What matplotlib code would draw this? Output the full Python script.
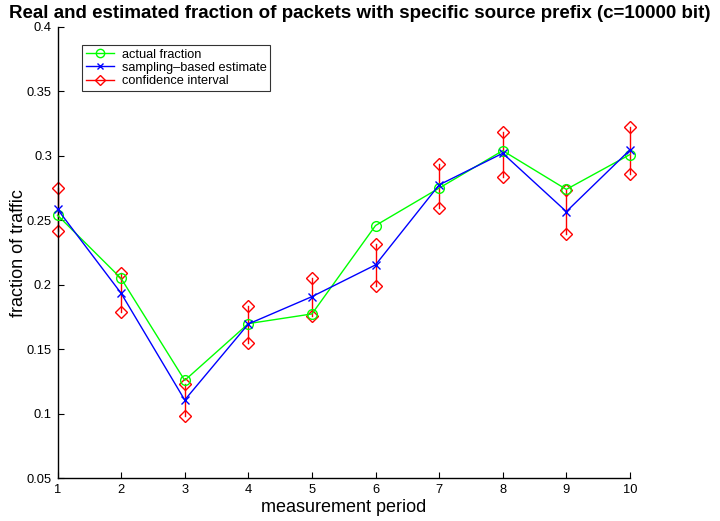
import matplotlib
matplotlib.use("Agg")
import matplotlib.pyplot as plt
from matplotlib.lines import Line2D

plt.rcParams['font.family'] = ['Liberation Sans', 'DejaVu Sans']

periods = [1, 2, 3, 4, 5, 6, 7, 8, 9, 10]
actual = [0.254, 0.205, 0.126, 0.170, 0.1775, 0.246, 0.275, 0.304, 0.274, 0.301]
estimate = [0.2586, 0.1935, 0.1108, 0.1697, 0.1909, 0.2155, 0.2775, 0.302, 0.2568, 0.3046]
ci_upper = [0.275, 0.209, 0.123, 0.1837, 0.2052, 0.2315, 0.2937, 0.3183, 0.2736, 0.3222]
ci_lower = [0.242, 0.1788, 0.0984, 0.155, 0.176, 0.1992, 0.2599, 0.2839, 0.2395, 0.286]

fig = plt.figure(figsize=(7.2, 5.21), dpi=100)
ax = fig.add_axes([0.0799, 0.0816, 0.795, 0.867])

green = '#00ff00'
blue = '#0000ff'
red = '#ff0000'

for x, lo, hi in zip(periods, ci_lower, ci_upper):
    ax.plot([x, x], [lo, hi], color=red, lw=1.0, marker='D', ms=6,
            mfc='none', mec=red, mew=1.0, zorder=2, clip_on=False)

ax.plot(periods, actual, color=green, lw=1.0, marker='o', ms=7,
        mfc='none', mec=green, mew=1.0, zorder=3, clip_on=False)
ax.plot(periods, estimate, color=blue, lw=1.0, marker='x', ms=6,
        mec=blue, mew=1.0, zorder=4, clip_on=False)

ax.set_xlim(1, 10)
ax.set_ylim(0.05, 0.4)
ax.set_xticks(periods)
ax.set_xticklabels([str(p) for p in periods])
yt = [0.05, 0.1, 0.15, 0.2, 0.25, 0.3, 0.35, 0.4]
ax.set_yticks(yt)
ax.set_yticklabels(['0.05', '0.1', '0.15', '0.2', '0.25', '0.3', '0.35', '0.4'])
ax.tick_params(direction='in', length=4, width=0.8, labelsize=9.3, pad=4)
for s in ['top', 'right']:
    ax.spines[s].set_visible(False)
for s in ['left', 'bottom']:
    ax.spines[s].set_linewidth(1.0)

ax.set_xlabel('measurement period', fontsize=13, labelpad=2)
ax.set_ylabel('fraction of traffic', fontsize=13, labelpad=0)

fig.text(0.5, 0.975, 'Real and estimated fraction of packets with specific source prefix (c=10000 bit)',
         ha='center', va='center', fontsize=13.5, fontweight='bold')

handles = [
    Line2D([], [], color=green, lw=1.0, marker='o', ms=6, mfc='none', mec=green),
    Line2D([], [], color=blue, lw=1.0, marker='x', ms=5, mec=blue),
    Line2D([], [], color=red, lw=1.0, marker='D', ms=5, mfc='none', mec=red),
]
labels = ['actual fraction', 'sampling\u2013based estimate', 'confidence interval']
leg = ax.legend(handles, labels, loc='upper left', bbox_to_anchor=(0.043, 0.96),
                fontsize=9.2, frameon=True, fancybox=False, edgecolor='black',
                borderpad=0.3, labelspacing=0.1, handlelength=2.2, handletextpad=0.6,
                borderaxespad=0)
leg.get_frame().set_linewidth(0.8)

fig.savefig('out.png', dpi=100)
